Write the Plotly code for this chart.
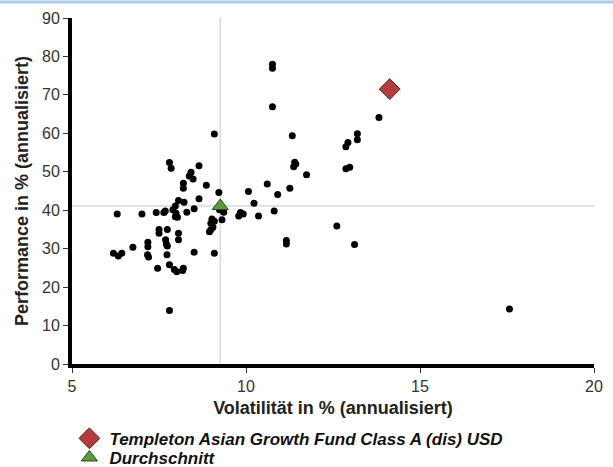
import plotly.graph_objects as go

# Peer funds (volatility %, performance %)
peer_vol = [7.80, 7.85, 8.65, 8.42, 8.37, 8.48, 8.20, 8.20, 8.86, 9.22,
            10.07, 8.06, 8.22, 8.65, 10.23, 8.51, 7.97, 7.90, 7.99, 8.03,
            7.97, 6.30, 7.01, 7.42, 7.68, 7.64, 8.30, 9.84, 9.92, 9.79,
            10.36, 9.02, 9.09, 8.99, 9.05, 8.99, 8.95, 9.24, 9.36, 9.31,
            7.50, 7.50, 7.74, 8.06, 8.06, 7.69, 7.71, 7.74, 7.18, 7.18,
            7.17, 7.20, 6.75, 6.19, 6.33, 6.43, 8.51, 9.09, 7.73, 7.46,
            7.80, 7.94, 8.01, 8.18, 8.20, 7.80, 10.76, 10.76, 10.76, 13.82,
            11.33, 13.20, 13.20, 12.93, 12.87, 11.40, 11.37, 11.43, 11.74, 12.87,
            12.98, 11.26, 10.61, 10.91, 10.81, 9.09, 12.61, 11.16, 11.16, 13.12,
            17.57]
peer_perf = [52.4, 50.9, 51.6, 49.9, 48.9, 48.1, 47.0, 45.7, 46.5, 44.6,
             44.9, 42.5, 42.1, 43.0, 41.8, 40.4, 41.1, 40.1, 39.2, 38.2,
             38.3, 39.0, 39.0, 39.4, 39.8, 39.4, 39.5, 39.4, 39.0, 38.5,
             38.5, 37.7, 37.1, 36.6, 35.6, 34.9, 34.4, 40.1, 39.5, 37.5,
             35.0, 34.0, 35.0, 34.0, 32.3, 32.3, 31.2, 30.7, 31.7, 30.5,
             28.4, 27.8, 30.4, 28.8, 28.1, 28.8, 29.1, 28.8, 28.4, 24.9,
             25.8, 24.6, 24.0, 24.3, 24.9, 13.9, 78.0, 76.9, 66.9, 64.1,
             59.4, 59.9, 58.3, 57.6, 56.5, 52.5, 51.3, 52.0, 49.2, 50.8,
             51.2, 45.7, 46.8, 44.1, 39.8, 59.8, 35.9, 32.1, 31.2, 31.1,
             14.3]

fund_name = ["Templeton Asian Growth Fund Class A (dis) USD"]
fund_vol = [14.13]
fund_perf = [71.5]

avg_name = ["Durchschnitt"]
avg_vol = [9.26]
avg_perf = [41.1]

x_range = [5, 20]
y_range = [0, 90]
x_ticks = [5, 10, 15, 20]
y_ticks = [0, 10, 20, 30, 40, 50, 60, 70, 80, 90]

FONT = "Liberation Sans, Arial, sans-serif"

fig = go.Figure()

fig.add_trace(go.Scatter(
    x=peer_vol, y=peer_perf, mode="markers", showlegend=False,
    marker=dict(color="black", size=7, line=dict(width=0)),
    hoverinfo="skip"))

fig.add_trace(go.Scatter(
    x=avg_vol, y=avg_perf, mode="markers", name=avg_name[0], legend="legend2",
    marker=dict(symbol="triangle-up", color="#5c9a3c", size=14,
                line=dict(color="#2f4a22", width=1))))

fig.add_trace(go.Scatter(
    x=fund_vol, y=fund_perf, mode="markers", name=fund_name[0], legend="legend",
    marker=dict(symbol="diamond", color="#b53c3c", size=16,
                line=dict(color="#5a1e1e", width=1))))

# average crosshair
fig.add_shape(type="line", xref="x", yref="y", x0=avg_vol[0], x1=avg_vol[0],
              y0=y_range[0], y1=y_range[1], line=dict(color="#d9d9d9", width=1.5),
              layer="below")
fig.add_shape(type="line", xref="x", yref="y", x0=x_range[0], x1=x_range[1],
              y0=avg_perf[0], y1=avg_perf[0], line=dict(color="#d9d9d9", width=1.5),
              layer="below")
# thin blue frame line at the top of the page
fig.add_shape(type="line", xref="paper", yref="paper", x0=-0.2, x1=1.1,
              y0=1.046, y1=1.046, line=dict(color="#a9c9ee", width=3))

axis_common = dict(showgrid=False, zeroline=False, showline=True,
                   linecolor="black", linewidth=4, ticks="outside",
                   ticklen=5, tickwidth=1, tickcolor="#333",
                   tickfont=dict(family=FONT, size=16, color="#333"))

fig.update_xaxes(range=x_range, tickvals=x_ticks,
                 title=dict(text="<b>Volatilität in % (annualisiert)</b>",
                            font=dict(family=FONT, size=18, color="#222"),
                            standoff=8),
                 **axis_common)
fig.update_yaxes(range=y_range, tickvals=y_ticks,
                 title=dict(text="<b>Performance in % (annualisiert)</b>",
                            font=dict(family=FONT, size=18, color="#222"),
                            standoff=10),
                 **axis_common)

legend_common = dict(xanchor="left", yanchor="top",
                     font=dict(family=FONT, size=17, color="#111",
                               style="italic", weight="bold"),
                     bgcolor="rgba(0,0,0,0)", itemwidth=30)

fig.update_layout(
    width=613, height=467,
    margin=dict(l=72, r=19, t=18, b=103, autoexpand=False),
    plot_bgcolor="white", paper_bgcolor="white",
    font=dict(family=FONT),
    showlegend=True,
    legend=dict(x=-0.005, y=-0.164, **legend_common),
    legend2=dict(x=-0.005, y=-0.2195, **legend_common),
)

fig.write_html("out.html", config={"displayModeBar": False},
               post_script="document.body.style.margin='0px';")
